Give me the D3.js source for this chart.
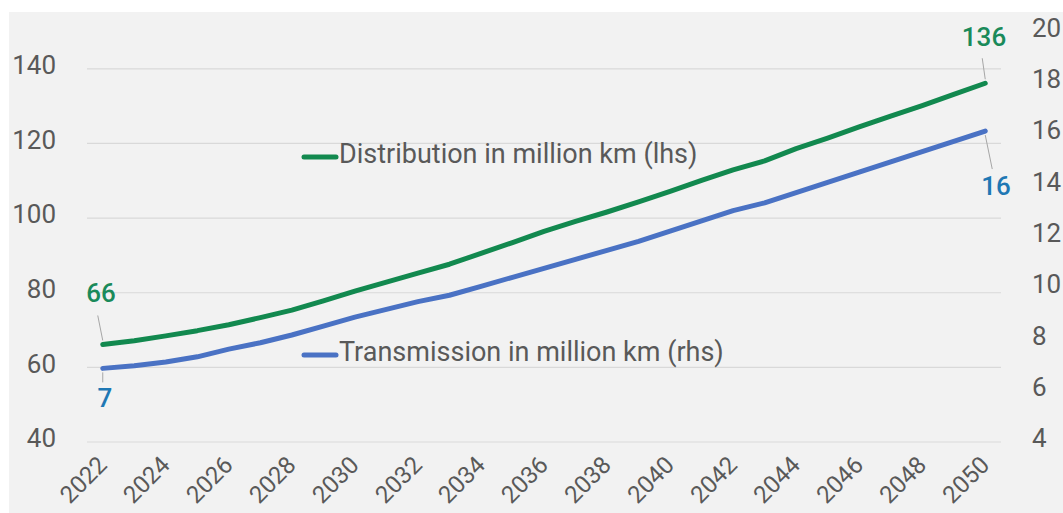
<!DOCTYPE html>
<html>
<head>
<meta charset="utf-8">
<script src="https://cdn.jsdelivr.net/npm/d3@7"></script>
<style>
  html, body { margin: 0; padding: 0; background: #ffffff; }
  svg { display: block; font-family: Roboto, "Noto Sans", sans-serif; }
</style>
</head>
<body>
<svg id="chart" width="1063" height="513"></svg>
<script>
// Grid length projections, 2022–2050
const years = d3.range(2022, 2051);
// Distribution grid, million km (left axis)
const distribution = [66.0, 67.0, 68.3, 69.7, 71.3, 73.2, 75.2, 77.7, 80.3, 82.7,
  85.1, 87.5, 90.4, 93.3, 96.3, 99.0, 101.5, 104.2, 107.0, 110.0,
  112.8, 115.2, 118.5, 121.3, 124.3, 127.2, 130.0, 133.0, 136.0];
// Transmission grid, million km (right axis)
const transmission = [6.85, 6.95, 7.1, 7.3, 7.6, 7.85, 8.15, 8.5, 8.85, 9.15,
  9.45, 9.7, 10.05, 10.4, 10.75, 11.1, 11.45, 11.8, 12.2, 12.6,
  13.0, 13.3, 13.7, 14.1, 14.5, 14.9, 15.3, 15.7, 16.1];
const leftTicks = [40, 60, 80, 100, 120, 140];
const rightTicks = [4, 6, 8, 10, 12, 14, 16, 18, 20];
const xTickYears = d3.range(2022, 2051, 2);
const seriesNames = ["Distribution in million km (lhs)", "Transmission in million km (rhs)"];

const GREEN = "#12894f", BLUE = "#4a72c4";
const GREEN_TXT = "#1a8a5a", BLUE_TXT = "#1f78b4";
const AXIS_TXT = "#595959";

const svg = d3.select("#chart");

// panel background
svg.append("rect").attr("x", 9).attr("y", 12).attr("width", 1054).attr("height", 501)
  .attr("fill", "#f2f2f2");

const plot = { left: 87, right: 1001, top: 31, bottom: 441.5 };

const x = d3.scalePoint().domain(years).range([plot.left, plot.right]).padding(0.5);
const yL = d3.scaleLinear().domain([40, 150]).range([plot.bottom, plot.top]);
const yR = d3.scaleLinear().domain([4, 20]).range([plot.bottom, plot.top]);

// horizontal gridlines
svg.append("g")
  .attr("transform", `translate(${plot.left},0)`)
  .call(d3.axisRight(yL).tickValues(leftTicks).tickSize(plot.right - plot.left).tickFormat(""))
  .call(g => g.select(".domain").remove())
  .call(g => g.selectAll("line").attr("stroke", "#d9d9d9").attr("stroke-width", 1.2));

// left axis labels
svg.append("g")
  .attr("transform", "translate(56,0)")
  .call(d3.axisLeft(yL).tickValues(leftTicks).tickSize(0).tickPadding(0))
  .call(g => g.select(".domain").remove())
  .call(g => g.selectAll("text").attr("fill", AXIS_TXT).attr("font-size", 26)
    .attr("font-family", "Roboto, sans-serif").attr("dy", "0.2em"));

// right axis labels
svg.append("g")
  .attr("transform", "translate(1032,0)")
  .call(d3.axisRight(yR).tickValues(rightTicks).tickSize(0).tickPadding(0))
  .call(g => g.select(".domain").remove())
  .call(g => g.selectAll("text").attr("fill", AXIS_TXT).attr("font-size", 26)
    .attr("font-family", "Roboto, sans-serif").attr("dy", "0.2em"));

// bottom axis: rotated year labels
svg.append("g")
  .attr("transform", `translate(0,${plot.bottom})`)
  .call(d3.axisBottom(x).tickValues(xTickYears).tickSize(0).tickPadding(0).tickFormat(d3.format("d")))
  .call(g => g.select(".domain").remove())
  .call(g => g.selectAll("text")
    .attr("fill", AXIS_TXT).attr("font-size", 24).attr("font-family", "Roboto, sans-serif")
    .attr("text-anchor", "end").attr("dy", 0)
    .attr("transform", "translate(5,25) rotate(-45)"));

// lines
const lineL = d3.line().x((d, i) => x(years[i])).y(d => yL(d));
const lineR = d3.line().x((d, i) => x(years[i])).y(d => yR(d));

svg.append("path").datum(transmission).attr("d", lineR)
  .attr("fill", "none").attr("stroke", BLUE).attr("stroke-width", 5)
  .attr("stroke-linejoin", "round").attr("stroke-linecap", "round");
svg.append("path").datum(distribution).attr("d", lineL)
  .attr("fill", "none").attr("stroke", GREEN).attr("stroke-width", 5)
  .attr("stroke-linejoin", "round").attr("stroke-linecap", "round");

// legend entries placed inside the plot
const legend = [
  { name: seriesNames[0], color: GREEN, x: 304, y: 157 },
  { name: seriesNames[1], color: BLUE, x: 304, y: 355 }
];
legend.forEach(l => {
  svg.append("line").attr("x1", l.x).attr("x2", l.x + 32).attr("y1", l.y).attr("y2", l.y)
    .attr("stroke", l.color).attr("stroke-width", 5).attr("stroke-linecap", "round");
  svg.append("text").attr("x", l.x + 35).attr("y", l.y + 6)
    .attr("fill", AXIS_TXT).attr("font-size", 27).attr("font-family", "Roboto, sans-serif")
    .text(l.name);
});

// end-point value labels with leader lines
const fmt = d3.format(".0f");
const n = years.length - 1;
const endLabels = [
  { yr: years[0], v: distribution[0], scale: yL, color: GREEN_TXT, lx: 101, ly: 302, y1: -4, y2: -29, dx: -5 },
  { yr: years[0], v: transmission[0], scale: yR, color: BLUE_TXT, lx: 105, ly: 407, y1: 4, y2: 14, dx: 0 },
  { yr: years[n], v: distribution[n], scale: yL, color: GREEN_TXT, lx: 984, ly: 46, y1: -4, y2: -25, dx: -3 },
  { yr: years[n], v: transmission[n], scale: yR, color: BLUE_TXT, lx: 996, ly: 195, y1: 4, y2: 38, dx: 7 }
];
endLabels.forEach(e => {
  const px = x(e.yr), py = e.scale(e.v);
  svg.append("line")
    .attr("x1", px).attr("y1", py + e.y1)
    .attr("x2", px + e.dx).attr("y2", py + e.y2)
    .attr("stroke", "#a6a6a6").attr("stroke-width", 1);
  svg.append("text").attr("x", e.lx).attr("y", e.ly).attr("text-anchor", "middle")
    .attr("fill", e.color).attr("font-size", 26).attr("font-weight", 500)
    .attr("font-family", "Roboto, sans-serif")
    .text(fmt(e.v));
});
</script>
</body>
</html>
